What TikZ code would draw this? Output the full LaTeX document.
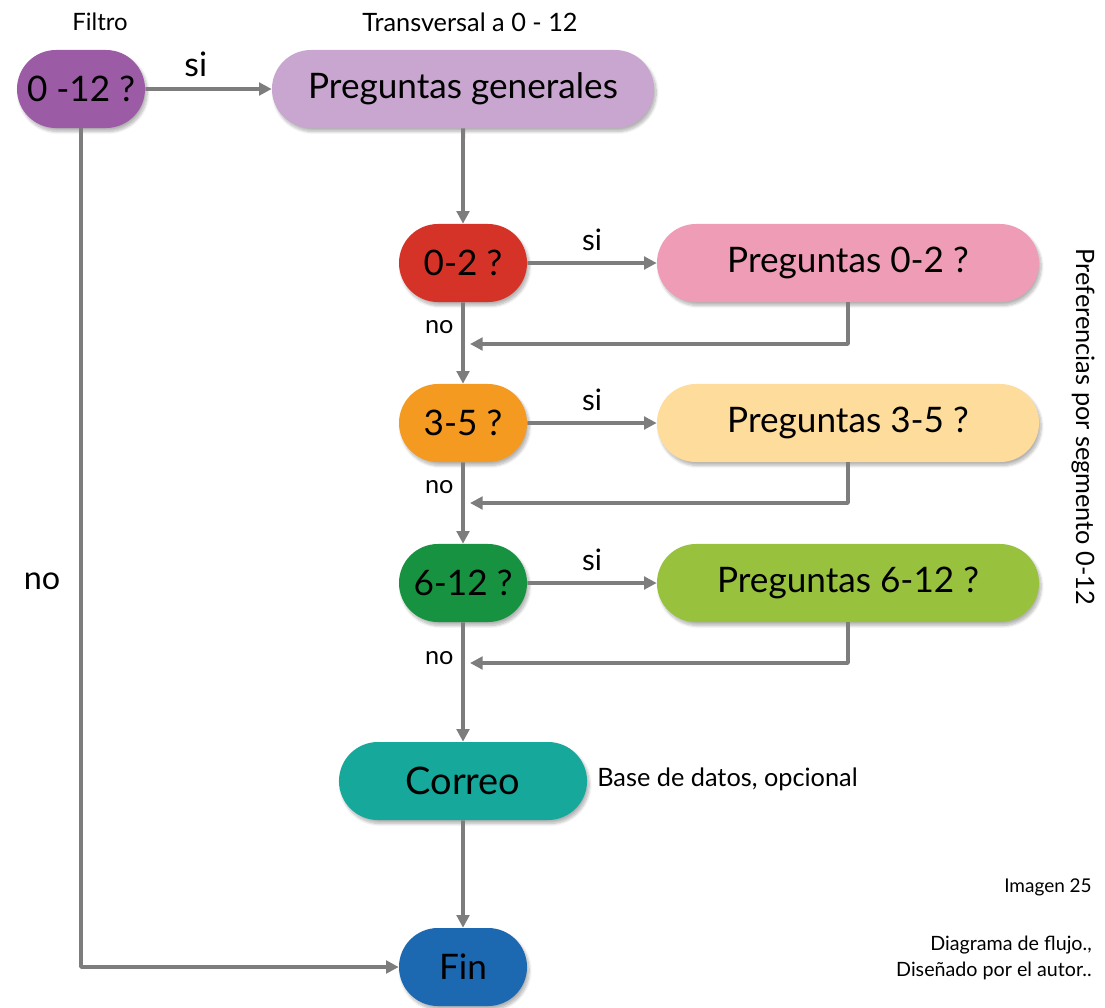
\documentclass[tikz,border=0pt]{standalone}
\usepackage{fontspec}
\setmainfont{Lato}
\usetikzlibrary{arrows.meta,shapes.misc,shadows.blur}
\definecolor{filtpurple}{HTML}{9C5BA5}
\definecolor{genlilac}{HTML}{C9A6D0}
\definecolor{segred}{HTML}{D63328}
\definecolor{segpink}{HTML}{EF9CB7}
\definecolor{segorange}{HTML}{F49A20}
\definecolor{segcream}{HTML}{FEDC9B}
\definecolor{segdkgreen}{HTML}{179240}
\definecolor{seglgreen}{HTML}{98C23E}
\definecolor{mailteal}{HTML}{16A99B}
\definecolor{finblue}{HTML}{1C68B1}
\definecolor{wiregray}{HTML}{7D7D7D}
\begin{document}
\begin{tikzpicture}[x=0.025cm,y=-0.025cm,line join=bevel]
  \tikzstyle{pill}=[rounded rectangle,minimum height=1.95cm,inner sep=0pt,
    font=\fontsize{25}{28}\selectfont,text=black,
    blur shadow={shadow xshift=1.5pt,shadow yshift=-2.5pt,shadow opacity=30,shadow blur steps=8}]
  \tikzstyle{small}=[minimum width=3.2cm,pill]
  \tikzstyle{wide}=[minimum width=9.55cm,pill]
  \tikzstyle{wire}=[draw=wiregray,line width=2.8pt,-{Triangle[length=9pt,width=9pt]}]
  \tikzstyle{note}=[font=\fontsize{18}{21}\selectfont,inner sep=0pt]
  \useasboundingbox (0,0) rectangle (1105,1007);
  % nodes
  \node[small,fill=filtpurple] (Q_all) at (81,89)   {0 -12 ?};
  \node[wide,fill=genlilac]    (P_gen) at (463,89)  {Preguntas generales};
  \node[small,fill=segred]     (Q_02)  at (463,263) {0-2 ?};
  \node[wide,fill=segpink]     (P_02)  at (848,263) {Preguntas 0-2 ?};
  \node[small,fill=segorange]  (Q_35)  at (463,423) {3-5 ?};
  \node[wide,fill=segcream]    (P_35)  at (848,423) {Preguntas 3-5 ?};
  \node[small,fill=segdkgreen] (Q_612) at (463,583) {6-12 ?};
  \node[wide,fill=seglgreen]   (P_612) at (848,583) {Preguntas 6-12 ?};
  \node[pill,minimum width=6.2cm,fill=mailteal,font=\fontsize{27}{30}\selectfont] (M) at (463,781) {Correo};
  \node[small,fill=finblue]    (F)     at (463,967) {Fin};
  \coordinate (R_02)  at (470,344);
  \coordinate (R_35)  at (470,503);
  \coordinate (R_612) at (470,663);
  % texts
  \node[note,font=\fontsize{17}{20}\selectfont] (T_filt) at (100,22)  {Filtro};
  \node[note] (T_tr)   at (470,22)  {Transversal a 0 - 12};
  \node[note,anchor=west] (T_db) at (597,779) {Base de datos, opcional};
  \node[note,rotate=-90] (T_seg) at (1083,427) {Preferencias por segmento 0-12};
  \node[note,font=\fontsize{13.5}{16}\selectfont,anchor=east] (T_img) at (1092,887) {Imagen 25};
  \node[note,font=\fontsize{14}{17}\selectfont,anchor=east,align=right] (T_src) at (1092,958)
    {Diagrama de flujo.,\\[2pt] Diseñado por el autor..};
  % connectors
  \path (Q_all) edge[wire] node[pos=0.4,above=4pt,font=\fontsize{24}{27}\selectfont] {si} (P_gen)
        (P_gen) edge[wire] (Q_02)
        (Q_02) edge[wire] node[above=4pt,font=\fontsize{21}{24}\selectfont] {si} (P_02)
        (Q_35) edge[wire] node[above=4pt,font=\fontsize{21}{24}\selectfont] {si} (P_35)
        (Q_612) edge[wire] node[above=4pt,font=\fontsize{21}{24}\selectfont] {si} (P_612)
        (Q_02) edge[wire] node[pos=0.3,left=2pt,font=\fontsize{18}{21}\selectfont] {no} (Q_35)
        (Q_35) edge[wire] node[pos=0.3,left=2pt,font=\fontsize{18}{21}\selectfont] {no} (Q_612)
        (Q_612) edge[wire] node[pos=0.3,left=2pt,font=\fontsize{18}{21}\selectfont] {no} (M)
        (M) edge[wire] (F);
  \draw[wire] (P_02.south) |- (R_02);
  \draw[wire] (P_35.south) |- (R_35);
  \draw[wire] (P_612.south) |- (R_612);
  \draw[wire] (Q_all.south) |- node[pos=0.27,left=10pt,font=\fontsize{23}{26}\selectfont] {no} (F.west);
\end{tikzpicture}
\end{document}
